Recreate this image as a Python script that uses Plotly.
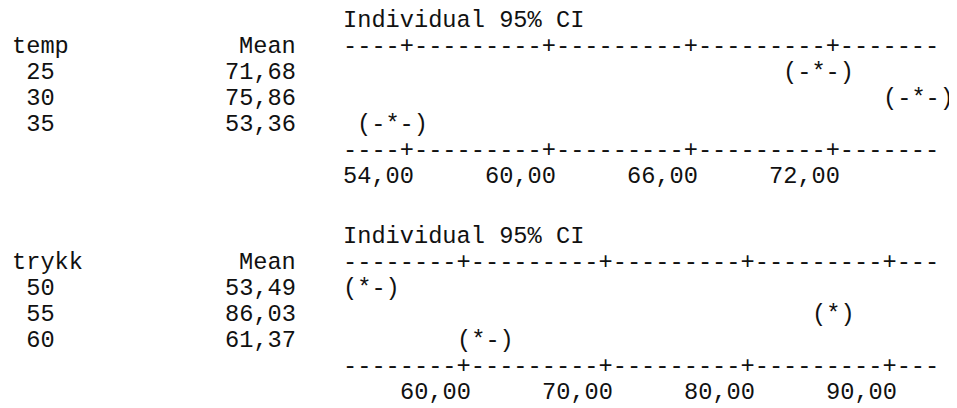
import plotly.graph_objects as go

# ---------------- data ----------------
temp_levels = ["25", "30", "35"]
temp_means = [71.68, 75.86, 53.36]
temp_marks = ["(-*-)", "(-*-)", "(-*-)"]
temp_ticks = [54, 60, 66, 72]
temp_ticktext = ["54,00", "60,00", "66,00", "72,00"]

trykk_levels = ["50", "55", "60"]
trykk_means = [53.49, 86.03, 61.37]
trykk_marks = ["(*-)", "(*)", "(*-)"]
trykk_ticks = [60, 70, 80, 90]
trykk_ticktext = ["60,00", "70,00", "80,00", "90,00"]

# ---------------- layout constants ----------------
W, H = 957, 408
PAGE_OFF = 8              # default page margin around the figure
FONT_FAMILY = "Liberation Mono, Courier New, monospace"
FS = 23.67
PITCH = FS * 0.6          # px per character cell
COLOR = "#111111"
X_LEFT = 12 - PAGE_OFF    # left edge of factor column
X_MEAN_R = 296 - PAGE_OFF # right edge of Mean column
X_CI = 343 - PAGE_OFF     # left edge of CI area
RULE_LEN = 42
ROW = 26

font = dict(family=FONT_FAMILY, size=FS, color=COLOR)

blocks = [
    dict(name="temp", levels=temp_levels, means=temp_means, marks=temp_marks,
         ticks=temp_ticks, ticktext=temp_ticktext, first_plus=4,
         top=20 - PAGE_OFF, axis="x"),
    dict(name="trykk", levels=trykk_levels, means=trykk_means, marks=trykk_marks,
         ticks=trykk_ticks, ticktext=trykk_ticktext, first_plus=8,
         top=236 - PAGE_OFF, axis="x2"),
]

fig = go.Figure()
annotations = []


def ann(text, x, y, xref="paper", xanchor="left", xshift=0):
    annotations.append(dict(
        text=text, x=x, y=y, xref=xref, yref="y", xanchor=xanchor,
        yanchor="middle", xshift=xshift, showarrow=False, font=font,
        borderpad=0, borderwidth=0,
    ))


axis_ranges = {}
for b in blocks:
    ticks = b["ticks"]
    c0 = b["first_plus"]
    step = ticks[1] - ticks[0]                 # value per 10 characters
    upc = step / 10.0                          # value per character cell
    px_per_unit = PITCH / upc
    zero_px = X_CI + (c0 + 0.5) * PITCH        # pixel of first tick
    axis_ranges[b["axis"]] = [ticks[0] - zero_px / px_per_unit,
                              ticks[0] + (W - zero_px) / px_per_unit]

    top = b["top"]
    axref = b["axis"]
    # title
    ann("Individual 95% CI", X_CI / W, top)
    # header
    ann(b["name"], X_LEFT / W, top + ROW)
    ann("Mean", X_MEAN_R / W, top + ROW, xanchor="right")
    # rules with '+' at the tick positions
    plus_cells = {c0 + 10 * i for i in range(len(ticks))}
    rule = "".join("+" if c in plus_cells else "-" for c in range(RULE_LEN))
    ann(rule, ticks[0], top + ROW, xref=axref, xshift=-(c0 + 0.5) * PITCH)
    ann(rule, ticks[0], top + ROW * 5, xref=axref, xshift=-(c0 + 0.5) * PITCH)
    # rows
    for i, (lev, m, mk) in enumerate(zip(b["levels"], b["means"], b["marks"])):
        y = top + ROW * (2 + i)
        ann(" " + lev, X_LEFT / W, y)
        ann(f"{m:.2f}".replace(".", ","), X_MEAN_R / W, y, xanchor="right")
        # character-grid position of the mean (as in the text output)
        xm = ticks[0] + round((m - ticks[0]) / upc) * upc
        k = mk.index("*")
        ann(mk, xm, y, xref=axref, xshift=-(k + 0.5) * PITCH)
    # tick labels
    for t, tt in zip(ticks, b["ticktext"]):
        ann(tt, t, top + ROW * 6, xref=axref, xanchor="right", xshift=0.5 * PITCH)

# invisible anchor traces so the axes exist
fig.add_trace(go.Scatter(x=[temp_ticks[0]], y=[0], xaxis="x", yaxis="y",
                         mode="markers", marker=dict(opacity=0), hoverinfo="skip",
                         showlegend=False))
fig.add_trace(go.Scatter(x=[trykk_ticks[0]], y=[0], xaxis="x2", yaxis="y",
                         mode="markers", marker=dict(opacity=0), hoverinfo="skip",
                         showlegend=False))

fig.update_layout(
    width=W, height=H,
    margin=dict(l=0, r=0, t=0, b=0),
    paper_bgcolor="white", plot_bgcolor="white",
    xaxis=dict(range=axis_ranges["x"], visible=False, domain=[0, 1], fixedrange=True),
    xaxis2=dict(range=axis_ranges["x2"], visible=False, domain=[0, 1],
                overlaying="x", fixedrange=True),
    yaxis=dict(range=[H, 0], visible=False, domain=[0, 1], fixedrange=True),
    annotations=annotations,
    showlegend=False,
)

fig.write_html("out.html", config=dict(displayModeBar=False))
